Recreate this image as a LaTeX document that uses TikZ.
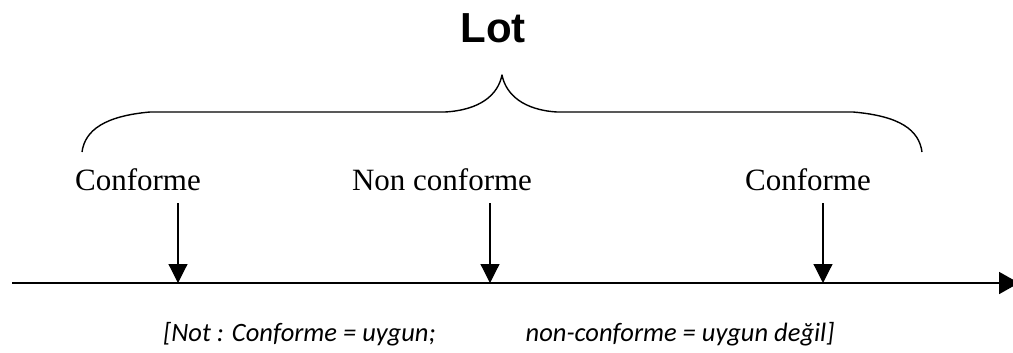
\documentclass[tikz,border=0pt]{standalone}
\usepackage{fontspec}
\setmainfont{Liberation Serif}
\newfontfamily\headfont{Liberation Sans}
\newfontfamily\notefont{Carlito}
\usetikzlibrary{arrows.meta}
\begin{document}
\begin{tikzpicture}[x=1pt,y=-1pt,
  label/.style={inner sep=0pt,anchor=base,font=\fontsize{31}{31}\selectfont},
  pointer/.style={line width=1.2pt,-{Triangle[width=19pt,length=19pt]}},
  axisline/.style={line width=1.8pt,-{Triangle[width=22pt,length=20pt]}},
  brace/.style={line width=1.4pt,line join=round}]
\useasboundingbox (0,0) rectangle (1013,353);

% title over the brace
\node[inner sep=0pt,anchor=base,font=\headfont\bfseries\fontsize{42}{42}\selectfont] (lot) at (493,43) {Lot};

% the curly brace spanning the lot
\draw[brace] (82,152) .. controls (85,130) and (105,116) .. (150,112)
  -- (445,112) .. controls (480,110) and (498,95) .. (502,75)
  .. controls (506,95) and (524,110) .. (557,112)
  -- (853,112) .. controls (900,116) and (919,130) .. (922,152);

% item labels
\node[label] (c1) at (138,190) {Conforme};
\node[label] (nc) at (442,190) {Non conforme};
\node[label] (c2) at (808,190) {Conforme};

% the axis
\coordinate (a0) at (12,283);
\coordinate (aend) at (1019,283);
\draw[axisline] (a0) -- (aend);

% pointers from the labels down to the axis
\coordinate (t1) at (178,203); \coordinate (b1) at (178,283);
\coordinate (t2) at (490,203); \coordinate (b2) at (490,283);
\coordinate (t3) at (823,203); \coordinate (b3) at (823,283);
\draw[pointer] (t1) -- (b1);
\draw[pointer] (t2) -- (b2);
\draw[pointer] (t3) -- (b3);

% translation note
\node[inner sep=0pt,anchor=base west,font=\notefont\itshape\fontsize{26.5}{26.5}\selectfont] (note) at (163,341)
  {[Not : Conforme = uygun;\hspace{90pt}non-conforme = uygun değil]};
\end{tikzpicture}
\end{document}
